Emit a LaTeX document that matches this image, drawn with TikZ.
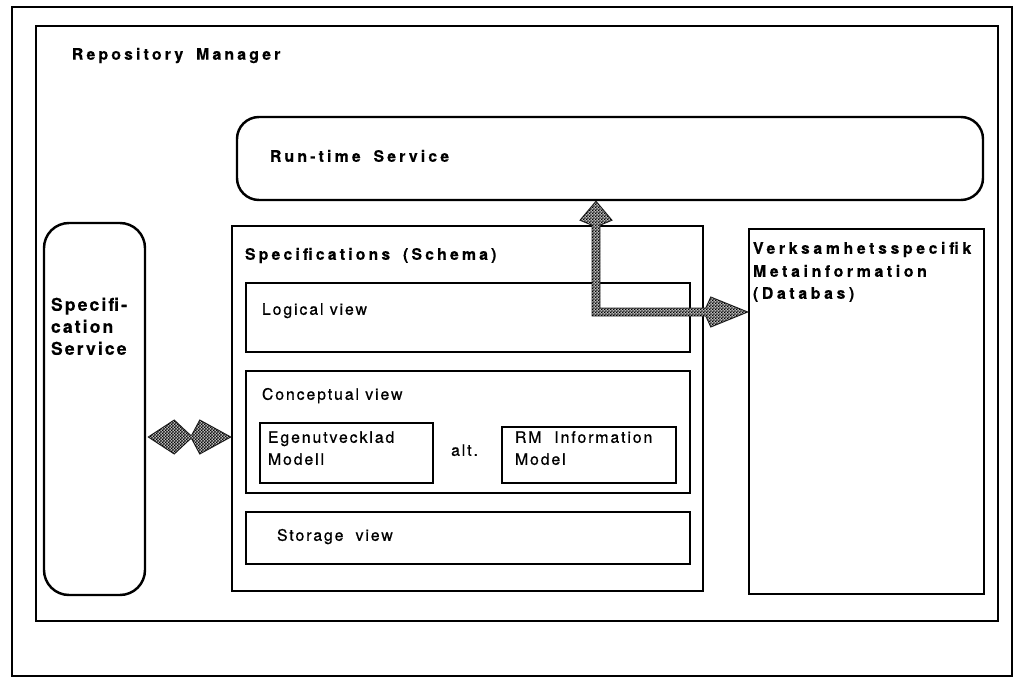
\documentclass[tikz,border=0pt]{standalone}
\usepackage{fontspec}
\setmainfont{TeX Gyre Heros}[LetterSpace=12, FakeBold=0.7]
\newfontfamily\boldwide{TeX Gyre Heros Bold}[LetterSpace=20, FakeBold=0.4]
\newfontfamily\boldwider{TeX Gyre Heros Bold}[LetterSpace=23, FakeBold=0.4]
\newfontfamily\boldside{TeX Gyre Heros Bold}[LetterSpace=12, FakeBold=0.4]
\usetikzlibrary{fit,calc,patterns}
% fine dithered fill used inside the fat arrows
\pgfdeclarepatternformonly{finechecker}{\pgfpointorigin}{\pgfqpoint{2.8pt}{2.8pt}}{\pgfqpoint{2.8pt}{2.8pt}}{%
  \pgfpathrectangle{\pgfpointorigin}{\pgfqpoint{1.4pt}{1.4pt}}%
  \pgfpathrectangle{\pgfqpoint{1.4pt}{1.4pt}}{\pgfqpoint{1.4pt}{1.4pt}}%
  \pgfusepath{fill}}
\newcommand\widegap{\hspace{11pt}}
\tikzset{
  outerbox/.style={draw, line width=2.2pt, inner sep=0pt},
  box/.style={draw, line width=2.1pt, inner sep=0pt},
  lbl/.style={inner sep=0pt, anchor=base west, font=\fontsize{13.5}{16}\selectfont},
  blbl/.style={lbl, font=\fontsize{13.5}{16}\selectfont\boldwide},
  vlbl/.style={lbl, font=\fontsize{13.5}{16}\selectfont\boldwider},
  slbl/.style={lbl, font=\fontsize{15}{18}\selectfont\boldside},
  fatarrow/.style={draw=black!85, line width=0.8pt, fill=gray!55,
    postaction={pattern=finechecker}, line join=miter}
}
\begin{document}
\begin{tikzpicture}[x=0.03cm, y=-0.03cm]
\useasboundingbox[fill=white] (0,0) rectangle (1014,678);

% frames
\node[outerbox, fit={(12,7) (1012,676)}] (page) {};
\node[outerbox, fit={(36,26) (998,621)}] (repo) {};

% components
\node[box, rounded corners=0.66cm, fit={(237,117) (983,200)}] (runtime) {};
\node[box, rounded corners=0.75cm, fit={(44,223) (145,595)}] (specserv) {};
\node[box, fit={(232,226) (703,591)}] (specs) {};
\node[box, fit={(246,283) (690,352)}] (logical) {};
\node[box, fit={(246,371) (690,493)}] (concept) {};
\node[box, fit={(260,423) (433,483)}] (egen) {};
\node[box, fit={(502,427) (676,483)}] (rminfo) {};
\node[box, fit={(246,512) (690,564)}] (storage) {};
\node[box, fit={(749,229) (984,594)}] (verks) {};

% labels
\node[blbl] (repoT) at ($(repo.north west)+(37,35)$) {Repository\widegap Manager};
\node[blbl] (rtT) at ($(runtime.north west)+(34,46)$) {Run-time\widegap Service};
\node[slbl] (ssA) at ($(specserv.north west)+(8,89)$) {Specifi-};
\node[slbl] (ssB) at ($(specserv.north west)+(8,111)$) {cation};
\node[slbl] (ssC) at ($(specserv.north west)+(8,133)$) {Service};
\node[blbl] (specsT) at ($(specs.north west)+(14,35)$) {Specifications\widegap (Schema)};
\node[lbl] (logicalT) at ($(logical.north west)+(17,33)$) {Logical view};
\node[lbl] (conceptT) at ($(concept.north west)+(17,30)$) {Conceptual view};
\node[lbl] (storageT) at ($(storage.north west)+(32,30)$) {Storage\hspace{5pt} view};
\node[lbl] (egenA) at ($(egen.north west)+(9,21)$) {Egenutvecklad};
\node[lbl] (egenB) at ($(egen.north west)+(9,43)$) {Modell};
\node[lbl] (rmA) at ($(rminfo.north west)+(14,17)$) {RM\widegap Information};
\node[lbl] (rmB) at ($(rminfo.north west)+(14,39)$) {Model};
\node[lbl, anchor=base] (altT) at ($($(egen.north east)!0.5!(rminfo.north west)$)+(-3,32)$) {alt.};
\node[vlbl] (vkA) at ($(verks.north west)+(5,26)$) {Verksamhetsspecifik};
\node[vlbl] (vkB) at ($(verks.north west)+(5,49)$) {Metainformation};
\node[vlbl] (vkC) at ($(verks.north west)+(5,71)$) {(Databas)};

% double arrow between Specification Service and Specifications
\coordinate (dA) at (specserv.east |- 0,437);
\coordinate (dB) at (specs.west |- 0,437);
\draw[fatarrow] ($(dA)+(2,0)$) -- ($(dA)+(28,-17)$) -- ($(dA)+(44,-2)$)
  -- ($(dB)+(-39,-2)$) -- ($(dB)+(-31,-17)$) -- (dB) -- ($(dB)+(-31,17)$)
  -- ($(dB)+(-39,2)$) -- ($(dA)+(44,2)$) -- ($(dA)+(28,17)$) -- cycle;

% bent arrow to Run-time Service and to the meta-information database
\coordinate (rtTip) at (runtime.south -| 596,0);
\coordinate (vkTip) at (verks.west |- 0,312);
\coordinate (bend) at (rtTip |- vkTip);
\draw[fatarrow] (rtTip) -- ($(rtTip)+(16,19)$) -- ($(rtTip)+(4,24)$)
  -- ($(bend)+(4,-4)$) -- ($(vkTip)+(-42,-4)$) -- ($(vkTip)+(-37,-15)$)
  -- (vkTip) -- ($(vkTip)+(-37,15)$) -- ($(vkTip)+(-42,4)$)
  -- ($(bend)+(-4,4)$) -- ($(rtTip)+(-4,24)$) -- ($(rtTip)+(-16,19)$) -- cycle;
\end{tikzpicture}
\end{document}
